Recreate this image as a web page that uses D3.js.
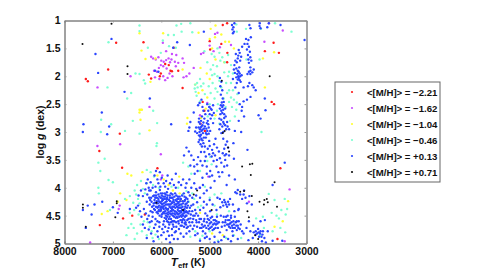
<!DOCTYPE html>
<html>
<head>
<meta charset="utf-8">
<script src="https://cdn.jsdelivr.net/npm/d3@7"></script>
<style>
  html, body { margin: 0; padding: 0; background: #fff; overflow: hidden; }
  text { font-family: "Liberation Sans", Arial, sans-serif; font-weight: bold; fill: #111; }
</style>
</head>
<body>
<svg id="chart" width="491" height="274"></svg>
<script>
// [Teff, log g], one list per metallicity bin
const lowest = [[6933,1.40],[6368,1.39],[7098,1.88],[7559,2.05],[7518,2.09],[5741,1.49],[6258,1.97],[6210,2.04],[6030,2.0],[5810,1.90],[5650,1.90],[5845,1.80],[5780,1.91],[6857,3.03],[6010,1.95],[5920,1.78],
  [4640,1.05],[4730,1.08],[5000,1.37],[4990,1.52],[4760,1.42],[4635,1.58],[4640,1.75],[3680,1.40],[3860,1.55],[3570,1.58],[5560,2.21],[3720,2.46],[3670,2.50],[5145,2.46],[5110,2.62],[5100,2.98],[5190,2.85],[7280,3.34],[6810,3.64],[6080,3.65],[7270,4.67],[6790,4.55],[6600,4.5],[6340,4.48],[3540,3.65],[3600,4.92]];
const low = [[6636,2.0],[7318,2.2],[6244,2.55],[5968,1.4],[6210,1.65],[6170,1.68],[6115,1.70],[6060,1.66],[6000,1.72],[5950,1.74],[5900,1.71],[5850,1.68],[5790,1.70],[5720,1.74],[5690,1.62],[6150,1.90],[6090,1.92],[6050,1.85],[6010,1.80],[5960,1.82],[5890,1.86],[5830,1.95],[5770,2.0],[5700,1.82],[6130,2.02],[6040,2.05],[5960,2.0],[5920,2.07],[5870,2.03],[5820,1.75],[5650,1.76],[5780,1.60],
  [5540,2.02],[5480,2.0],[5420,1.95],[5330,1.85],[5530,1.76],[5560,1.68],[5180,1.60],[5130,1.58],[4920,1.55],[4840,1.22],[4890,1.24],[4790,1.48],[4560,1.44],[5000,1.45],[5900,1.55],[3870,1.38],[3775,1.05],[3490,1.18],[7320,3.25],[6850,3.22],[6010,3.40],[6010,3.85],[5980,3.78],[7470,4.98],[6880,4.38],[6860,4.32],[5210,4.0],[5030,3.8],[3350,4.03],[3450,4.96],[4190,4.25],[5200,2.70],[5000,2.55],[5050,2.48]];
const mid = [[6450,1.23],[5962,1.23],[6409,1.54],[6327,1.69],[6450,2.6],[6420,2.6],[6400,2.6],[6450,2.65],[6430,2.78],[6244,2.97],[6224,2.10],[6120,1.68],[5230,1.22],[4880,1.09],[4980,1.15],[4890,1.30],[4760,1.25],[4680,1.38],[5000,1.33],[4950,1.50],[4600,1.38],[4500,1.50],[5560,1.88],[5190,1.85],[5060,1.95],[5000,2.05],[4880,1.70],[4700,1.75],[3900,1.68],[3670,1.57],[3860,2.20],[5300,2.15],[5230,2.30],[5150,2.25],[5050,2.38],[5180,2.75],[5080,2.58],[4880,2.7],[5460,2.75],[5470,2.85],
  [6700,3.75],[6620,3.78],[6390,3.72],[6080,3.78],[5950,3.85],[5850,3.95],[6850,4.1],[6900,4.25],[7110,4.42],[7230,4.47],[6720,4.22],[5760,4.05],[5620,4.1],[5630,3.8],[3380,4.24],[4950,4.82],[4730,4.85],[3660,4.7],[3490,4.6],[5600,4.22],[5200,4.45]];
const solar = [[6450,1.09],[6450,1.19],[6278,1.49],[5968,1.36],[5858,1.26],[5686,1.09],[5740,1.26],[7091,1.39],[6533,1.95],[6450,1.96],[6361,2.07],[6334,2.13],[7112,2.2],[6623,2.3],[6705,2.40],[7243,2.78],[7036,2.86],[6588,2.8],[6168,2.62],[6086,2.84],[6450,3.03],[5840,1.46],[6010,1.58],[5700,1.49],[5580,1.20],[5360,1.21],[5400,1.05],[5590,1.06],[4450,1.07],[4440,1.20],[4250,1.15],[3940,1.15],[3650,1.05],[3310,1.20],[3970,1.70],
  [5110,1.55],[4960,1.60],[4900,1.65],[4840,1.50],[4800,1.58],[4740,1.66],[4690,1.75],[4620,1.62],[4560,1.80],[4240,1.70],[4980,1.88],[4900,1.96],[4840,2.0],[4800,2.08],[4700,1.93],[4620,2.0],[4560,2.12],[5300,2.15],[5310,2.22],[5290,2.28],[5200,2.05],[5130,2.13],[4980,2.30],[4900,2.40],[4840,2.28],[4640,2.30],[4560,2.38],[4520,2.25],[4430,2.32],[4440,2.47],[4450,2.60],[4540,2.55],[4480,2.72],[4710,2.40],[4830,2.50],[5000,2.50],[5200,2.45],[5040,2.72],[4900,2.76],[4800,2.85],[3930,3.0],[4580,2.80],
  [5260,2.12],[5250,2.2],[5270,2.35],[5180,2.18],[5100,2.32],[5020,2.18],[4940,2.12],[4880,2.22],[4760,2.2],[4660,2.12],[4600,2.25],[4500,2.42],[4600,2.46],[4670,2.55],[4850,2.62],[4930,1.8],[4850,1.82],[4780,1.72],[4600,1.92],[4520,1.95],[5050,1.75],[4950,1.98],
  [7250,3.0],[6750,2.98],[6090,3.20],[6100,3.25],[7170,3.48],[7300,3.55],[7260,3.70],[7090,3.86],[7000,3.90],[7300,4.0],[7290,4.10],[6300,3.68],[6220,3.72],[6150,3.80],[6420,3.88],[6300,3.92],[6170,3.95],[6050,4.0],[6750,4.20],[6650,4.15],[6580,4.27],[6480,4.2],[6340,4.1],[6650,4.45],[6620,4.65],[6570,4.72],[6500,4.82],[6400,4.78],[6300,4.85],[6180,4.9],[6050,4.92],[6240,4.70],[6360,4.60],[7060,4.4],[5550,3.55],[5440,3.62],[5380,3.75],[5200,3.7],[5050,3.52],[4990,3.45],[4960,3.58],[5790,3.98],[5650,4.0],[5560,4.12],[5430,4.25],[5320,4.2],[5240,4.35],[5180,4.32],[5600,4.32],[5000,4.18],[4900,4.32],[3780,4.11],[3660,4.22],[3450,4.2],[3400,4.38],[3520,4.4],[3620,4.5],[3570,4.55],[3430,4.48],[3720,4.45],[3900,4.52],[4040,4.55],[3880,4.72],[3700,4.78],[3540,4.72],[3440,4.8],[3960,4.85],[5400,4.88],[5200,4.92],[5000,4.78],[4830,4.95],
  [6520,4.12],[6450,4.28],[6560,4.4],[6470,4.48],[6430,4.66],[6680,4.72],[6720,4.85],[6550,4.92],[6280,4.62],[6200,4.78],[6120,4.84],[6500,3.95],[6550,4.05],[6380,4.02],[5480,4.06],[5360,4.1],[5100,3.98],[4900,4.12],[4760,4.1],[4850,4.48],[4600,4.42],[5300,4.78],[5150,4.86],[4500,4.85],[4350,4.9],[4660,4.9]];
const high = [[7029,1.33],[7360,1.6],[7305,1.94],[6760,2.28],[6237,2.4],[7229,2.65],[7608,2.86],[7621,3.0],[7077,2.9],[7118,3.04],[5672,1.39],[5796,2.86],[5755,1.49],[6130,1.90],[6060,1.92],
  // red giant branch, top
  [4540,1.08],[4510,1.12],[4530,1.16],[4500,1.20],[4520,1.23],[4490,1.05],[4157,1.14],[4180,1.08],[3965,1.05],[3970,1.10],[3950,1.14],[3778,1.05],[3810,1.12],[3537,1.08],[3040,1.35],[5121,1.2],[5410,1.44],[4200,1.35],[4250,1.33],[4150,1.30],[4330,1.47],[4280,1.42],[4400,1.53],[4380,1.58],[4410,1.63],[4350,1.65],[4190,1.47],[4230,1.52],[4170,1.56],[4210,1.62],[4160,1.66],[4470,1.72],[4440,1.75],[4490,1.80],[4190,1.76],[4140,1.72],[4420,1.68],[4460,1.60],[4370,1.72],[4220,1.42],[4160,1.84],[4200,1.70],
  [4450,1.86],[4420,1.90],[4400,1.92],[4380,1.95],[4430,1.96],[4410,2.0],[4370,2.0],[4400,2.03],[4420,2.06],[4380,2.07],[4450,2.02],[4500,1.88],[4520,2.05],[4340,1.98],[4157,1.90],[4190,1.92],[4120,1.93],[4160,1.96],[4090,1.88],[4220,1.96],[4120,2.16],[4210,2.18],[4180,2.12],[4050,2.25],[4090,2.20],[3861,2.4],[4157,2.37],[4230,2.42],[4330,2.55],[4380,2.50],[3847,2.61],[3950,2.76],[3990,2.70],[4290,2.72],[4340,2.62],[4400,2.8],[4440,2.12],[4390,1.84],[4360,2.1],[4480,1.94],[4470,2.2],[4400,2.3],[4300,2.2],[4300,2.45],
  // second branch
  [4760,2.10],[4780,2.18],[4740,2.25],[4790,2.03],[4770,2.33],[4730,2.40],[4750,2.47],[4770,2.52],[4740,2.55],[4720,2.60],[4760,2.62],[4740,2.66],[4700,2.68],[4780,2.68],[4720,2.52],[4700,2.75],[4708,2.85],[4740,2.9],[4680,2.88],[4660,2.95],[4720,3.0],[4640,2.82],[4760,3.02],[4800,2.95],[4600,2.95],[4480,2.98],[4790,2.58],[4710,2.46],[4680,2.58],[4800,2.76],[4760,2.78],[4670,2.72],[4720,2.82],[4780,2.86],[4630,2.9],
  // lower clump
  [5050,2.50],[5010,2.55],[4980,2.58],[5030,2.62],[4960,2.60],[4930,2.52],[4915,2.66],[5000,2.68],[5090,2.68],[5130,2.62],[5150,2.55],[5210,2.48],[5240,2.52],[5170,2.42],[5330,2.65],[5400,2.82],[5420,2.92],[5440,2.98],[5225,2.82],[5200,2.85],[5170,2.90],[5180,2.80],[5150,2.88],[5130,2.83],[5200,2.95],[5230,2.92],[5170,2.98],[5140,3.02],[5180,3.05],[5210,3.00],[5060,2.84],[5040,2.80],[5020,2.92],[4990,2.98],[5070,2.94],[5100,2.90],[5280,2.92],[5300,2.99],[5260,3.02],[5080,3.02],[5020,3.03],[5220,2.76],[5160,2.72],[5110,2.76],[5190,2.92],[5220,3.06],[5150,2.96],[5120,2.94],[5050,2.98],[5030,2.86],[5060,3.04],[4950,2.7],[4980,2.76],[4930,2.84],
  [5200,3.08],[5170,3.12],[5150,3.15],[5230,3.18],[5190,3.22],[5130,3.20],[5100,3.26],[5080,3.10],[5040,3.30],[5000,3.25],[4950,3.32],[4930,3.38],[4890,3.42],[4960,3.44],[5010,3.40],[4850,3.28],[4810,3.35],[4790,3.47],[4730,3.38],[4700,3.30],[4670,3.23],[4640,3.17],[4620,3.28],[4660,3.40],[4600,3.42],[4680,3.50],[4760,3.55],[5240,3.45],[5190,3.52],[5260,3.58],[5150,3.60],[5100,3.52],[5060,3.62],[4990,3.70],[4950,3.78],[5000,3.80],[5060,3.75],[4860,3.62],[4820,3.72],[4800,3.80],[4900,3.88],[4740,3.72],[5380,3.42],[5330,3.50],[5430,3.35],[5480,3.28],[5310,3.75],[5250,3.70],[5150,3.82],[5530,3.42],[4510,3.20],[4350,3.0],[4220,3.32],[4500,3.48],[5210,3.14],[5160,3.26],[5120,3.1],[5010,3.16],[4910,3.22],[4880,3.12],[4720,3.12],[4690,3.42],[5110,3.36],[5080,3.44],[5180,3.36],[4920,3.52],[4850,3.5],[4700,3.62],[4640,3.6],[5320,3.62],[5400,3.6],
  // subgiants into the dwarf cloud
  [6310,3.92],[6280,3.85],[6220,3.90],[6140,3.78],[6110,3.70],[6080,3.85],[6060,3.92],[6030,3.72],[5990,3.82],[5950,3.92],[6020,3.98],[5900,3.88],[5870,3.78],[5820,3.92],[5780,3.85],[5740,3.95],[5700,3.75],[5640,3.90],[5590,3.95],[5550,3.85],[5480,3.92],[5420,3.85],[5380,4.0],[5320,3.92],[5280,4.02],[5200,4.0],[5140,3.95],[5120,4.10],[5060,4.05],[4980,4.0],[5000,4.22],[6180,4.0],[6120,3.98],[5920,3.98],[5860,4.02],[5700,4.0],[5500,4.0],[5440,4.08],[5360,4.18],[5280,4.14],[5200,4.18],[5120,4.25],[6250,4.05],
  // dwarf cloud, outer edge
  [6900,4.45],[7000,4.35],[6650,4.38],[6480,4.32],[6420,4.05],[6380,4.15],[6330,4.03],[6290,4.12],[6260,4.0],[6220,4.05],[6300,4.25],[6250,4.18],[6360,4.38],[6320,4.46],[6410,4.52],[6290,4.56],[6240,4.62],[6340,4.72],[6260,4.75],[6210,4.82],[6150,4.72],[6120,4.66],[6080,4.78],[6040,4.70],[6000,4.85],[5980,4.74],[5900,4.92],[5870,4.78],[5820,4.98],[5780,4.85],[5720,4.80],[5660,4.92],[5600,4.82],[5540,4.88],[7380,4.30],[7520,4.32],[7620,4.40],[7440,4.48],[7560,4.72],[7220,4.25],[6240,4.3],[6220,4.42],[6260,4.5],[6180,4.52],[6200,4.6],[6120,4.56],[6080,4.6],[6040,4.62],[5960,4.66],[5920,4.7],[5850,4.72],[5780,4.74],[5700,4.78],
  [6470,4.14],[6520,4.36],[6440,4.42],[6380,4.66],[6300,4.9],[6160,4.96],[6070,4.88],[5950,4.8],[5840,4.86],[5740,4.92],[5480,4.82],[5420,4.78],[5350,4.74],[5410,4.14],[5340,4.3],[5260,4.26],[5200,4.4],[5130,4.36],[5060,4.3],[5090,4.46],[4990,4.42],[4940,4.3],[4860,4.4],[4790,4.2],[4840,4.18],[5250,4.82],[5060,4.88],[4900,4.98],[4760,4.94],[4560,4.96],
  // dwarf cloud, core
  [6200,4.25],[6170,4.15],[6160,4.32],[6140,4.22],[6130,4.40],[6110,4.08],[6100,4.28],[6090,4.18],[6080,4.36],[6070,4.46],[6060,4.12],[6050,4.24],[6040,4.32],[6030,4.04],[6020,4.42],[6010,4.18],[6000,4.28],[5995,4.52],[5985,4.36],[5975,4.1],[5965,4.22],[5955,4.44],[5945,4.6],[5935,4.32],[5925,4.16],[5915,4.26],[5905,4.5],[5895,4.38],[5885,4.08],[5875,4.2],[5865,4.3],[5855,4.44],[5845,4.56],[5835,4.66],[5825,4.14],[5815,4.24],[5805,4.36],[5795,4.48],[5785,4.28],[5775,4.6],[5765,4.18],[5755,4.4],[5745,4.7],[5735,4.52],[5725,4.3],[5715,4.1],[5705,4.22],[5695,4.62],[5685,4.44],[5675,4.34],[5665,4.54],[5655,4.16],[5645,4.26],[5635,4.74],[5625,4.46],[5615,4.36],[5605,4.58],[5595,4.2],[5585,4.3],[5575,4.68],[5565,4.48],[5555,4.4],[5545,4.56],[5535,4.1],[5525,4.24],[5515,4.64],[5505,4.34],[5495,4.5],[5485,4.42],[5475,4.72],[5465,4.58],
  [6190,4.34],[6155,4.28],[6125,4.18],[6095,4.44],[6065,4.34],[6035,4.5],[6005,4.4],[5980,4.2],[5960,4.34],[5940,4.2],[5920,4.42],[5900,4.3],[5880,4.52],[5860,4.38],[5840,4.22],[5820,4.46],[5800,4.56],[5780,4.38],[5760,4.5],[5740,4.26],[5720,4.42],[5700,4.54],[5680,4.24],[5660,4.4],[5640,4.64],[5620,4.3],[5600,4.42],[5580,4.52],[5560,4.34],[5540,4.46],[5520,4.38],[5500,4.62],[5480,4.28],
  [6025,4.26],[5990,4.14],[5970,4.46],[5950,4.28],[5930,4.54],[5910,4.12],[5890,4.24],[5870,4.4],[5850,4.62],[5830,4.34],[5810,4.42],[5790,4.18],[5770,4.34],[5750,4.6],[5730,4.46],[5710,4.36],[5690,4.3],[5670,4.46],[5650,4.36],[5630,4.52],[5610,4.24],[5590,4.44],[5570,4.58],[5550,4.28],[5530,4.42],[5510,4.52],[5490,4.18],[5470,4.36],
  [6150,4.14],[6060,4.2],[5930,4.1],[5800,4.1],[5690,4.14],[5570,4.14],[5460,4.2],[6180,4.44],[6110,4.34],[6050,4.4],[5980,4.3],[5890,4.46],[5810,4.3],[5730,4.16],[5640,4.32],[5560,4.24],[5500,4.3],[6130,4.27],[6040,4.16],[5960,4.16],[5870,4.14],[5750,4.22],[5670,4.2],[5620,4.16],[5520,4.16],[5450,4.32],[6090,4.24],[5990,4.24],[5900,4.2],[5820,4.18],[5740,4.34],[5660,4.28],[5590,4.36],[5510,4.44],[5440,4.46],[6150,4.38],[6070,4.28],[6000,4.34],[5910,4.36],[5840,4.3],[5770,4.26],[5700,4.3],[5630,4.42],[5570,4.4],[5480,4.5],[6020,4.36],[5950,4.38],[5860,4.48],[5790,4.42],[5710,4.48],[5650,4.48],[5550,4.5],[5470,4.44],[6060,4.42],[5930,4.46],[5830,4.52],[5770,4.46],[5680,4.52],[5600,4.5],[5520,4.58],[5440,4.56],[5990,4.48],[5900,4.56],[5800,4.62],[5730,4.6],[5650,4.6],[5570,4.62],[5490,4.66],[5420,4.62],[5880,4.6],[5760,4.66],[5690,4.7],[5600,4.68],[5530,4.7],[5450,4.7],[5400,4.68],[6210,4.18],[6230,4.22],[6110,4.14],[6010,4.1],[5880,4.18],[5770,4.12],[5640,4.2],[5510,4.22],[5410,4.36],[5390,4.48],[5360,4.42],[5340,4.56],[5310,4.5],[5280,4.46],[5270,4.62],
  // cool dwarf tail
  [5450,4.25],[5420,4.42],[5400,4.55],[5380,4.32],[5360,4.62],[5340,4.5],[5320,4.68],[5300,4.4],[5280,4.58],[5260,4.7],[5240,4.5],[5220,4.62],[5200,4.72],[5180,4.56],[5160,4.66],[5140,4.78],[5120,4.6],[5100,4.68],[5090,4.82],[5060,4.62],[5050,4.5],[5030,4.68],[5010,4.58],[4990,4.72],[4970,4.62],[4950,4.52],[4930,4.66],[4910,4.74],[4890,4.58],[4870,4.66],[4850,4.52],[4830,4.72],[4810,4.62],[4790,4.8],[4770,4.5],[4750,4.7],[4730,4.62],[4710,4.52],[4690,4.68],[4670,4.58],[4650,4.76],[4630,4.5],[4610,4.66],[4590,4.58],[4570,4.72],[4550,4.62],[4530,4.78],[4500,4.66],[4480,4.72],[4460,4.62],[4440,4.76],[4420,4.68],[4400,4.6],[4380,4.74],[4360,4.66],[4330,4.78],
  [5300,4.85],[5200,4.95],[5100,4.9],[5000,4.92],[4900,4.88],[4820,4.97],[4700,4.88],[4620,4.92],[4520,4.86],[4420,4.92],[4300,4.82],[4240,4.72],[4190,4.6],[4160,4.78],[4100,4.68],[4050,4.84],[4000,4.74],[3960,4.82],[3930,4.88],[3900,4.78],[3870,4.9],[3920,4.96],[3840,4.98],[3700,4.95],[3500,4.95],[4110,4.9],[4200,4.94],
  [5040,4.56],[5000,4.64],[4980,4.54],[4960,4.7],[4920,4.58],[4900,4.64],[4880,4.72],[4860,4.6],[5020,4.74],[4940,4.76],[4840,4.64],[5070,4.72],[5110,4.56],[5170,4.72],[5130,4.7],[5210,4.56],[4660,4.52],[4640,4.66],[4620,4.58],[4600,4.7],[4560,4.54],[4540,4.68],[4510,4.6],[4580,4.64],[4480,4.52],[4440,4.6],[4410,4.72],[4680,4.62],[4450,4.68],[4520,4.72],[4050,4.78],[4020,4.82],[3990,4.8],[3950,4.78],[3910,4.84],[3980,4.88],[4090,4.8],
  // knot around 4.2-4.3
  [4740,4.26],[4700,4.22],[4660,4.3],[4620,4.25],[4580,4.2],[4780,4.35],[4520,4.3],[4470,4.08],[4420,4.04],[4370,4.12],[4330,4.2],[4290,4.05],[4260,4.18],[4230,4.28],[4180,4.15],[4130,4.3],[4400,4.38],[4490,4.42],[3860,4.58],[3950,4.6],[3800,4.78],[3450,3.55],[3700,3.95],[4650,3.95],[4600,3.78],[4480,3.85],[4410,4.4],[4560,4.5],[4680,4.26],[4640,4.34],[4600,4.3],[4720,4.32],[4440,4.1],[4300,4.12]];
const highest = [[7029,1.06],[7628,1.42],[6698,1.82],[6698,1.96],[3760,2.0],[4750,2.08],[4730,3.02],[4690,2.98],[4600,3.35],[4620,3.28],[7620,4.30],[7620,4.36],[6920,4.28],[6920,4.24],[6950,4.53],[7560,4.70],[6100,4.27],[4330,3.62],[4170,3.58],[4120,3.57],[4150,3.77],[3660,3.9],[4370,4.07],[4290,4.06],[4130,4.15],[3970,4.25],[3870,4.22],[3820,4.2],[3800,4.26],[3880,4.3],[3610,4.34],[5330,4.12],[5260,4.05],[4960,4.4],[4220,4.42],[4190,4.53],[4000,4.92],[4060,4.85],[5550,4.4]];

const series = [lowest, low, mid, solar, high, highest];
const seriesColors = ["#ff1a1a", "#c84dff", "#ffff33", "#7dffd2", "#2a45ff", "#111111"];
const legendLabels = ["<[M/H]> = \u22122.21", "<[M/H]> = \u22121.62", "<[M/H]> = \u22121.04", "<[M/H]> = \u22120.46", "<[M/H]> = +0.13", "<[M/H]> = +0.71"];
const teffTicks = [8000, 7000, 6000, 5000, 4000, 3000];
const loggTicks = [1, 1.5, 2, 2.5, 3, 3.5, 4, 4.5, 5];

const svg = d3.select("#chart");
const x = d3.scaleLinear().domain([8000, 3000]).range([64.5, 306.5]);
const y = d3.scaleLinear().domain([1, 5]).range([20.5, 243.5]);

// the reference is a downsampled raster, a touch of blur gets the soft dots
svg.append("defs").append("filter").attr("id", "soft")
  .attr("x", "-5%").attr("y", "-5%").attr("width", "110%").attr("height", "110%")
  .append("feGaussianBlur").attr("stdDeviation", 0.3);

const plot = svg.append("g").attr("filter", "url(#soft)");
series.forEach(function(pts, i) {
  plot.append("g").selectAll("circle").data(pts).join("circle")
    .attr("cx", d => x(d[0]))
    .attr("cy", d => y(d[1]))
    .attr("r", i == 5 ? 1 : 1.2)
    .attr("fill", seriesColors[i]);
});

// frame, ticks on all four sides
const tickColor = "#999";
function styleAxis(g, size) {
  g.select(".domain").attr("stroke", "#444").attr("stroke-width", 1);
  g.selectAll(".tick line").attr("stroke", tickColor);
  g.selectAll("text").attr("font-size", size).style("fill", "#111");
}
svg.append("g").attr("transform", "translate(0,243.5)")
  .call(d3.axisBottom(x).tickValues(teffTicks).tickSize(-2).tickSizeOuter(0).tickPadding(4).tickFormat(d3.format("d")))
  .call(styleAxis, 10.5);
svg.append("g").attr("transform", "translate(0,20.5)")
  .call(d3.axisTop(x).tickValues(teffTicks).tickSize(-2).tickSizeOuter(0).tickFormat(""))
  .call(styleAxis, 10.5);
svg.append("g").attr("transform", "translate(64.5,0)")
  .call(d3.axisLeft(y).tickValues(loggTicks).tickSize(-2).tickSizeOuter(0).tickPadding(4).tickFormat(d3.format("")))
  .call(styleAxis, 10.5);
svg.append("g").attr("transform", "translate(306.5,0)")
  .call(d3.axisRight(y).tickValues(loggTicks).tickSize(-2).tickSizeOuter(0).tickFormat(""))
  .call(g => g.select(".domain").attr("stroke", "#888").attr("stroke-width", 1.5))
  .call(g => g.selectAll(".tick line").attr("stroke", tickColor));

// axis titles
const xt = svg.append("text").attr("x", 188).attr("y", 265.5).attr("text-anchor", "middle").attr("font-size", 10.5);
xt.append("tspan").attr("font-style", "italic").attr("font-size", 11.5).text("T");
xt.append("tspan").attr("dy", 2.5).attr("font-size", 8).text("eff");
xt.append("tspan").attr("dy", -2.5).text(" (K)");

const yt = svg.append("text").attr("transform", "translate(44,132) rotate(-90)")
  .attr("text-anchor", "middle").attr("font-size", 10.5);
yt.append("tspan").text("log ");
yt.append("tspan").attr("font-style", "italic").text("g");
yt.append("tspan").text(" (dex)");

// legend
svg.append("rect").attr("x", 335).attr("y", 82).attr("width", 105).attr("height", 100)
  .attr("fill", "#fff").attr("stroke", "#666").attr("stroke-width", 1);
const row = svg.append("g").selectAll("g").data(legendLabels).join("g")
  .attr("transform", (d, i) => "translate(0," + (92 + i * 16) + ")");
row.append("circle").attr("cx", 352).attr("r", 1.1).attr("fill", (d, i) => seriesColors[i]);
row.append("text").attr("x", 367).attr("y", 3.5).attr("font-size", 9.6).text(d => d);
</script>
</body>
</html>
